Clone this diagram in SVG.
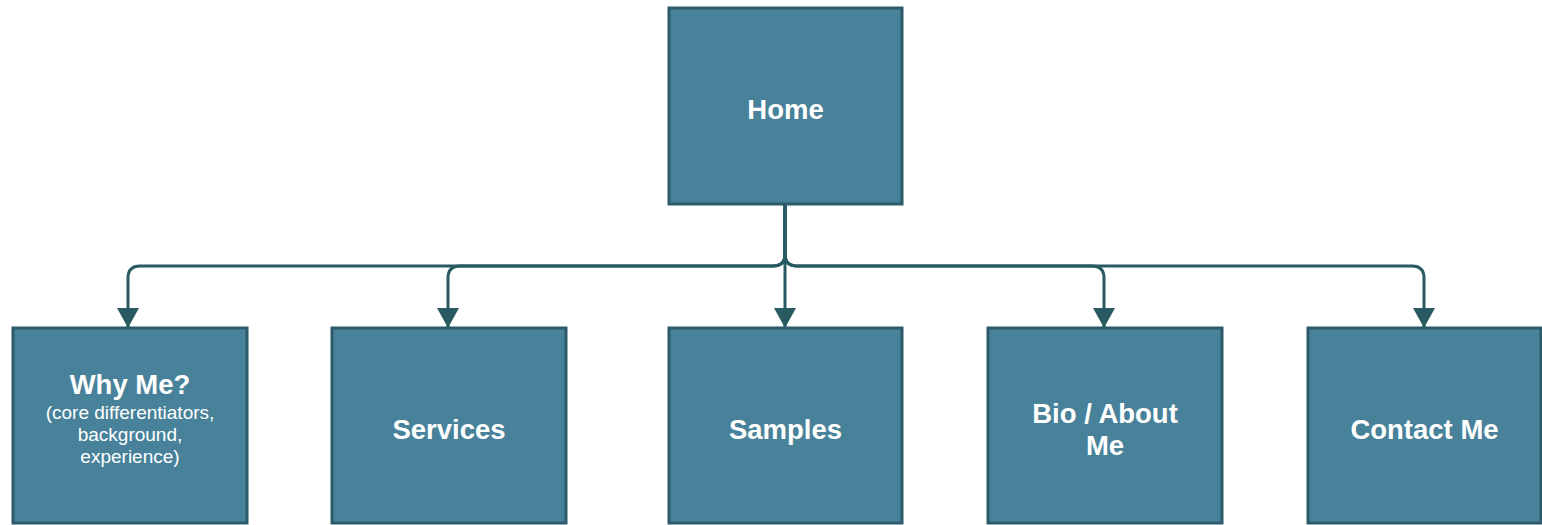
<svg xmlns="http://www.w3.org/2000/svg" width="1542" height="525" viewBox="0 0 1542 525">
<style>
.box{fill:#48829a;stroke:#2d5b6a;stroke-width:3}
.t{font-family:"Liberation Sans",Arial,sans-serif;font-weight:bold;fill:#ffffff;text-anchor:middle;font-size:27.5px}
.s{font-family:"Liberation Sans",Arial,sans-serif;fill:#ffffff;text-anchor:middle;font-size:19px}
.c{fill:none;stroke:#285a62;stroke-width:3}
</style>
<defs>
<marker id="arr" viewBox="0 0 20 22" refX="20" refY="11" markerWidth="20" markerHeight="22" orient="auto" markerUnits="userSpaceOnUse">
<path d="M0,0 L20,11 L0,22 z" fill="#285a62"/>
</marker>
</defs>
<rect width="1542" height="525" fill="#ffffff"/>
<g id="connectors">
<path class="c" marker-end="url(#arr)" d="M785 204 V254 Q785 266 773 266 H140 Q128 266 128 278 V328"/>
<path class="c" marker-end="url(#arr)" d="M785 204 V254 Q785 266 773 266 H460 Q448 266 448 278 V328"/>
<path class="c" marker-end="url(#arr)" d="M785 204 V328"/>
<path class="c" marker-end="url(#arr)" d="M785 204 V254 Q785 266 797 266 H1092 Q1104 266 1104 278 V328"/>
<path class="c" marker-end="url(#arr)" d="M785 204 V254 Q785 266 797 266 H1412 Q1424 266 1424 278 V328"/>
</g>
<g id="home">
<rect class="box" x="669" y="8" width="233" height="196"/>
<text class="t" x="785.5" y="119">Home</text>
</g>
<g id="whyme">
<rect class="box" x="13" y="328" width="234" height="195"/>
<text class="t" x="130" y="394">Why Me?</text>
<text class="s" x="130" y="419">(core differentiators,</text>
<text class="s" x="130" y="441">background,</text>
<text class="s" x="130" y="463">experience)</text>
</g>
<g id="services">
<rect class="box" x="332" y="328" width="234" height="195"/>
<text class="t" x="449" y="439">Services</text>
</g>
<g id="samples">
<rect class="box" x="669" y="328" width="233" height="195"/>
<text class="t" x="785.5" y="439">Samples</text>
</g>
<g id="bio">
<rect class="box" x="988" y="328" width="234" height="195"/>
<text class="t" x="1105" y="423">Bio / About</text>
<text class="t" x="1105" y="455">Me</text>
</g>
<g id="contact">
<rect class="box" x="1308" y="328" width="233" height="195"/>
<text class="t" x="1424.5" y="439">Contact Me</text>
</g>
</svg>
